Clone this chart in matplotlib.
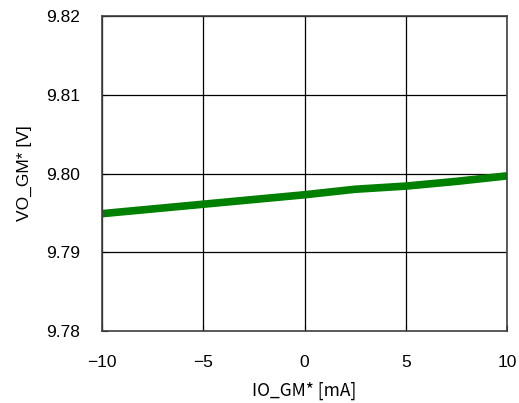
import matplotlib
matplotlib.use("Agg")
import matplotlib.pyplot as plt

plt.rcParams['font.family'] = ['Liberation Sans', 'DejaVu Sans']

io_ma = [-10, -7.5, -5, -2.5, 0, 2.5, 5, 7.5, 10]
vo_v = [9.7949, 9.7955, 9.7961, 9.7967, 9.7973, 9.7980, 9.7984, 9.7990, 9.7997]
xticks = [-10, -5, 0, 5, 10]
yticks = [9.78, 9.79, 9.80, 9.81, 9.82]

fig = plt.figure(figsize=(5.19, 4.03), dpi=100)
ax = fig.add_axes([102/519, 1 - 331/403, 405/519, 315/403])
ax.plot(io_ma, vo_v, color='#008000', linewidth=5.5, solid_capstyle='butt')
ax.set_xlim(-10, 10)
ax.set_ylim(9.78, 9.82)
ax.set_xticks(xticks)
ax.set_xticklabels(['\u221210', '\u22125', '0', '5', '10'])
ax.set_yticks(yticks)
ax.set_yticklabels([f'{v:.2f}' for v in yticks])
ax.grid(True, color='black', linewidth=0.9)
ax.tick_params(direction='in', length=4, labelsize=12.5, colors='black')
ax.tick_params(axis='y', pad=16)
ax.tick_params(axis='x', pad=17)
for s in ax.spines.values():
    s.set_color('#404040')
    s.set_linewidth(1.2)
ax.set_xlabel('IO_GM* [mA]', fontsize=12.5, labelpad=9,
              family=['Noto Sans CJK JP', 'DejaVu Sans'])
ax.set_ylabel('VO_GM* [V]', fontsize=12.5, labelpad=10)
fig.savefig('out.png', dpi=100)
